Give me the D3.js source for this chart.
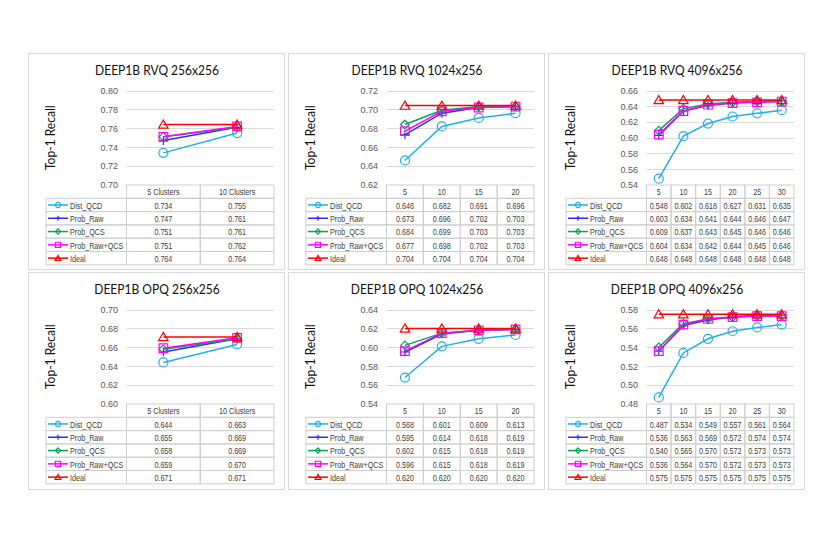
<!DOCTYPE html>
<html>
<head>
<meta charset="utf-8">
<script src="https://cdn.jsdelivr.net/npm/d3@7"></script>
<style>
  body { margin: 0; background: #fff; }
  .narrow { font-family: "Liberation Sans", Arial, sans-serif; }
</style>
</head>
<body>
<svg id="chart" width="830" height="537"></svg>
<script>
// series shared by every panel
const seriesNames = ["Dist_QCD", "Prob_Raw", "Prob_QCS", "Prob_Raw+QCS", "Ideal"];
const seriesColors = ["#1fb0ec", "#2b2bff", "#00a651", "#ff00ff", "#ff0000"];
const seriesMarkers = ["circle", "plus", "diamond", "square", "triangle"];

// column labels
const clusterLabels = ["5 Clusters", "10 Clusters"];
const clusters4 = ["5", "10", "15", "20"];
const clusters6 = ["5", "10", "15", "20", "25", "30"];

// values, one row per series (same order as seriesNames)
const rvq256 = [
  [0.734, 0.755],
  [0.747, 0.761],
  [0.751, 0.761],
  [0.751, 0.762],
  [0.764, 0.764]
];
const rvq1024 = [
  [0.646, 0.682, 0.691, 0.696],
  [0.673, 0.696, 0.702, 0.703],
  [0.684, 0.699, 0.703, 0.703],
  [0.677, 0.698, 0.702, 0.703],
  [0.704, 0.704, 0.704, 0.704]
];
const rvq4096 = [
  [0.548, 0.602, 0.618, 0.627, 0.631, 0.635],
  [0.603, 0.634, 0.641, 0.644, 0.646, 0.647],
  [0.609, 0.637, 0.643, 0.645, 0.646, 0.646],
  [0.604, 0.634, 0.642, 0.644, 0.645, 0.646],
  [0.648, 0.648, 0.648, 0.648, 0.648, 0.648]
];
const opq256 = [
  [0.644, 0.663],
  [0.655, 0.669],
  [0.658, 0.669],
  [0.659, 0.670],
  [0.671, 0.671]
];
const opq1024 = [
  [0.568, 0.601, 0.609, 0.613],
  [0.595, 0.614, 0.618, 0.619],
  [0.602, 0.615, 0.618, 0.619],
  [0.596, 0.615, 0.618, 0.619],
  [0.620, 0.620, 0.620, 0.620]
];
const opq4096 = [
  [0.487, 0.534, 0.549, 0.557, 0.561, 0.564],
  [0.536, 0.563, 0.569, 0.572, 0.574, 0.574],
  [0.540, 0.565, 0.570, 0.572, 0.573, 0.573],
  [0.536, 0.564, 0.570, 0.572, 0.573, 0.573],
  [0.575, 0.575, 0.575, 0.575, 0.575, 0.575]
];

// y axis ranges [min, max]
const rvq256Range = [0.70, 0.80];
const rvq1024Range = [0.62, 0.72];
const rvq4096Range = [0.54, 0.66];
const opq256Range = [0.60, 0.70];
const opq1024Range = [0.54, 0.64];
const opq4096Range = [0.48, 0.58];

const panels = [
  { title: "DEEP1B RVQ 256x256", cats: clusterLabels, values: rvq256, range: rvq256Range, col: 0, row: 0 },
  { title: "DEEP1B RVQ 1024x256", cats: clusters4, values: rvq1024, range: rvq1024Range, col: 1, row: 0 },
  { title: "DEEP1B RVQ 4096x256", cats: clusters6, values: rvq4096, range: rvq4096Range, col: 2, row: 0 },
  { title: "DEEP1B OPQ 256x256", cats: clusterLabels, values: opq256, range: opq256Range, col: 0, row: 1 },
  { title: "DEEP1B OPQ 1024x256", cats: clusters4, values: opq1024, range: opq1024Range, col: 1, row: 1 },
  { title: "DEEP1B OPQ 4096x256", cats: clusters6, values: opq4096, range: opq4096Range, col: 2, row: 1 }
];

// layout
const panelX = [28, 288, 548];
const panelY = [53, 272];
const panelW = 256, panelH = 216;
const plot = { left: 98.5, right: 246, top: 37.5, bottom: 132 };
const tableLeft = 18;
const rowH = 13.3;
const borderColor = "#d9d9d9";
const tableColor = "#cfcfcf";
const squeeze = 0.8;   // no narrow font installed, so squeeze the table text

const svg = d3.select("#chart");

// marker path builder
function markerPath(type, s) {
  const p = d3.path();
  if (type === "circle") {
    p.arc(0, 0, s, 0, 2 * Math.PI);
  } else if (type === "square") {
    p.rect(-s, -s, 2 * s, 2 * s);
  } else if (type === "diamond") {
    p.moveTo(0, -s); p.lineTo(s, 0); p.lineTo(0, s); p.lineTo(-s, 0); p.closePath();
  } else if (type === "triangle") {
    p.moveTo(0, -s * 1.05); p.lineTo(s * 1.1, s * 0.85); p.lineTo(-s * 1.1, s * 0.85); p.closePath();
  } else if (type === "plus") {
    p.moveTo(-s, 0); p.lineTo(s, 0); p.moveTo(0, -s); p.lineTo(0, s);
  }
  return p.toString();
}

function narrowText(parent, x, y, anchor, str) {
  return parent.append("text")
    .attr("transform", "translate(" + x + "," + y + ") scale(" + squeeze + ",1)")
    .attr("dy", "0.35em")
    .attr("text-anchor", anchor)
    .attr("font-size", 9)
    .attr("fill", "#404040")
    .text(str);
}

panels.forEach(function(cfg) {
  const g = svg.append("g")
    .attr("transform", "translate(" + panelX[cfg.col] + "," + panelY[cfg.row] + ")");

  g.append("rect")
    .attr("x", 0.5).attr("y", 0.5)
    .attr("width", panelW).attr("height", panelH + cfg.row)
    .attr("fill", "#fff")
    .attr("stroke", borderColor);

  g.append("text")
    .attr("transform", "translate(129,17) scale(0.86,1)")
    .attr("dy", "0.35em")
    .attr("text-anchor", "middle")
    .attr("font-family", "Lato, 'Open Sans', sans-serif")
    .attr("font-size", 14)
    .attr("fill", "#111")
    .text(cfg.title);

  const x = d3.scaleBand().domain(cfg.cats).range([plot.left, plot.right]);
  const y = d3.scaleLinear().domain(cfg.range).range([plot.bottom, plot.top]);
  const ticks = d3.range(cfg.range[0], cfg.range[1] + 0.001, 0.02);

  // gridlines
  g.append("g").selectAll("line").data(ticks.slice(1)).enter().append("line")
    .attr("x1", plot.left).attr("x2", plot.right)
    .attr("y1", d => Math.round(y(d)) + 0.5).attr("y2", d => Math.round(y(d)) + 0.5)
    .attr("stroke", borderColor);

  // y axis labels
  const yAxis = d3.axisLeft(y).tickValues(ticks).tickFormat(d3.format(".2f")).tickSize(0).tickPadding(0);
  const ya = g.append("g")
    .attr("transform", "translate(" + (plot.left - 8.5) + ",0)")
    .call(yAxis);
  ya.select(".domain").remove();
  ya.selectAll("text")
    .attr("font-family", "'Liberation Sans', Arial, sans-serif")
    .attr("font-size", 9)
    .attr("fill", "#595959");

  g.append("text")
    .attr("transform", "translate(22," + ((plot.top + plot.bottom) / 2) + ") rotate(-90) scale(0.86,1)")
    .attr("dy", "0.35em")
    .attr("text-anchor", "middle")
    .attr("font-family", "Lato, 'Open Sans', sans-serif")
    .attr("font-size", 14)
    .attr("fill", "#111")
    .text("Top-1 Recall");

  // data table
  const tbl = g.append("g").attr("class", "narrow");
  const tTop = plot.bottom;
  // header cells
  cfg.cats.forEach(function(c) {
    tbl.append("rect")
      .attr("x", x(c)).attr("y", tTop)
      .attr("width", x.bandwidth()).attr("height", rowH)
      .attr("fill", "none").attr("stroke", tableColor);
    narrowText(tbl, x(c) + x.bandwidth() / 2, tTop + rowH / 2 + 0.5, "middle", c);
  });
  seriesNames.forEach(function(name, i) {
    const ry = tTop + rowH * (i + 1);
    tbl.append("rect")
      .attr("x", tableLeft).attr("y", ry)
      .attr("width", plot.left - tableLeft).attr("height", rowH)
      .attr("fill", "none").attr("stroke", tableColor);
    // legend key
    tbl.append("line")
      .attr("x1", tableLeft + 2).attr("x2", tableLeft + 22)
      .attr("y1", ry + rowH / 2).attr("y2", ry + rowH / 2)
      .attr("stroke", seriesColors[i]).attr("stroke-width", 1.5);
    tbl.append("path")
      .attr("transform", "translate(" + (tableLeft + 12) + "," + (ry + rowH / 2) + ")")
      .attr("d", markerPath(seriesMarkers[i], 2.6))
      .attr("fill", "none").attr("stroke", seriesColors[i]).attr("stroke-width", 1.2);
    narrowText(tbl, tableLeft + 24, ry + rowH / 2 + 0.5, "start", name);
    cfg.cats.forEach(function(c, j) {
      tbl.append("rect")
        .attr("x", x(c)).attr("y", ry)
        .attr("width", x.bandwidth()).attr("height", rowH)
        .attr("fill", "none").attr("stroke", tableColor);
      narrowText(tbl, x(c) + x.bandwidth() / 2, ry + rowH / 2 + 0.5, "middle",
        d3.format(".3f")(cfg.values[i][j]));
    });
  });

  // series lines and markers
  const line = d3.line()
    .x((d, j) => x(cfg.cats[j]) + x.bandwidth() / 2)
    .y(d => y(d));
  cfg.values.forEach(function(vals, i) {
    const sg = g.append("g");
    sg.append("path")
      .attr("d", line(vals))
      .attr("fill", "none")
      .attr("stroke", seriesColors[i])
      .attr("stroke-width", 1.5);
    sg.selectAll("path.m").data(vals).enter().append("path")
      .attr("class", "m")
      .attr("transform", (d, j) => "translate(" + (x(cfg.cats[j]) + x.bandwidth() / 2) + "," + y(d) + ")")
      .attr("d", markerPath(seriesMarkers[i], seriesMarkers[i] === "circle" ? 4.5 : 4.3))
      .attr("fill", "none")
      .attr("stroke", seriesColors[i])
      .attr("stroke-width", 1.2);
  });
});
</script>
</body>
</html>
